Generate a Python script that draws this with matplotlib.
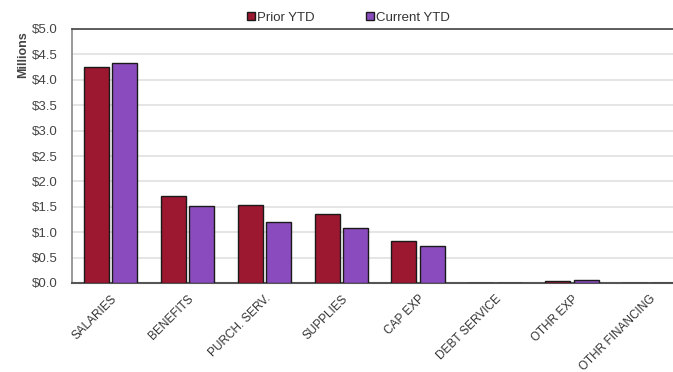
import matplotlib
matplotlib.use("Agg")
import matplotlib.pyplot as plt
import numpy as np

categories = ["SALARIES", "BENEFITS", "PURCH. SERV.", "SUPPLIES", "CAP EXP",
              "DEBT SERVICE", "OTHR EXP", "OTHR FINANCING"]
prior_ytd = [4.26, 1.71, 1.53, 1.36, 0.83, 0.0, 0.03, 0.0]
current_ytd = [4.34, 1.52, 1.20, 1.08, 0.73, 0.0, 0.05, 0.0]
yticks = [0.0, 0.5, 1.0, 1.5, 2.0, 2.5, 3.0, 3.5, 4.0, 4.5, 5.0]

plt.rcParams["font.family"] = ["Liberation Sans", "DejaVu Sans"]

W, H = 673, 372
fig = plt.figure(figsize=(W / 100, H / 100), dpi=100)
ax = fig.add_axes([72 / W, 1 - 283 / H, 615.5 / W, 254 / H])

x = np.arange(len(categories))
bw = 0.325
off = 0.185
ax.bar(x - off, prior_ytd, bw, color="#9C1730", edgecolor="#1a1a1a", linewidth=1.0,
       label="Prior YTD", zorder=3)
ax.bar(x + off, current_ytd, bw, color="#8A4BBE", edgecolor="#1a1a1a", linewidth=1.0,
       label="Current YTD", zorder=3)

ax.set_xlim(-0.5, len(categories) - 0.5)
ax.set_ylim(0, 5.0)
ax.set_yticks(yticks)
ax.set_yticklabels([f"${v:.1f}" for v in yticks], fontsize=9.5, color="#444444")
ax.set_xticks(x)
ax.set_xticklabels(categories, rotation=45, ha="right", rotation_mode="anchor",
                   fontsize=8.5, color="#333333")
ax.tick_params(axis="both", length=0)
ax.tick_params(axis="y", pad=10)
ax.tick_params(axis="x", pad=7)

ax.grid(axis="y", color="#e0e0e0", linewidth=1.2, zorder=0)
ax.set_axisbelow(True)
ax.spines["top"].set_color("#444444")
ax.spines["top"].set_linewidth(1.2)
ax.spines["left"].set_color("#888888")
ax.spines["left"].set_linewidth(1.2)
ax.spines["bottom"].set_color("#555555")
ax.spines["bottom"].set_linewidth(1.5)
ax.spines["right"].set_visible(False)

ax.set_ylabel("Millions", fontsize=9, fontweight="bold", color="#444444")
ax.yaxis.set_label_coords((29 - 72) / 615.5, (283 - 55) / 254)

fig.legend(loc="upper left", bbox_to_anchor=(247 / W, 1 - 12 / H), ncol=2, frameon=False,
           fontsize=9.5, handlelength=0.57, handleheight=0.57, handletextpad=0.2,
           columnspacing=3.9, labelcolor="#333333", borderaxespad=0, borderpad=0)

fig.savefig("out.png", dpi=100, facecolor="white")
